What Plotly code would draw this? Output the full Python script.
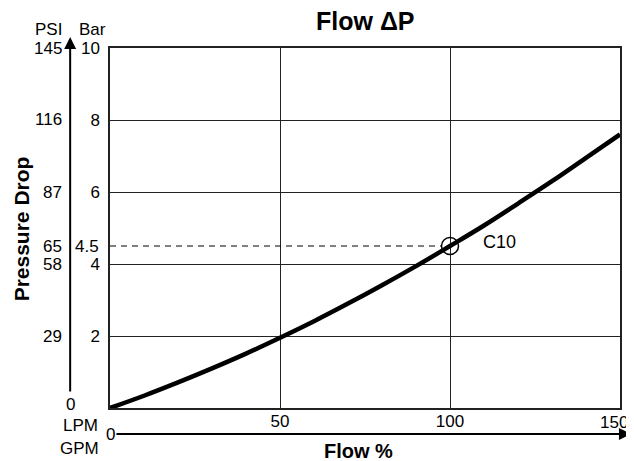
import plotly.graph_objects as go

# ---- data ----
flow_pct = [0, 10, 20, 30, 40, 50, 60, 70, 80, 90, 100, 110, 120, 130, 140, 150]
pressure_bar = [0, 0.34, 0.71, 1.10, 1.51, 1.95, 2.41, 2.90, 3.41, 3.94, 4.50, 5.07, 5.68, 6.30, 6.95, 7.60]
bar_ticks = [2, 4, 6, 8, 10]
psi_ticks = [0, 29, 58, 65, 87, 116, 145]
psi_tick_bar = [0, 2, 4, 4.5, 6, 8, 10]
flow_ticks = [50, 100]
point_flow = 100
point_bar = 4.5
point_label = "C10"

# page is rendered with an 8px body margin
OFF = 8
W, H = 634 - OFF, 461 - OFF
# plot area in page pixels: x 110..622, y 48..408
L, R, T, B = 110 - OFF, 634 - 622, 48 - OFF, 461 - 408
PW, PH = W - L - R, H - T - B
XMAX, YMAX = 150, 10

def px(x):  # page pixel -> paper x
    return (x - OFF - L) / PW

def py(y):  # page pixel -> paper y
    return (H - B - (y - OFF)) / PH

FONT = "Liberation Sans, Arial, sans-serif"
fig = go.Figure()

circle_r = 8.5
fig.add_trace(go.Scatter(
    x=[0, point_flow - circle_r * XMAX / PW], y=[point_bar, point_bar],
    mode="lines", line=dict(color="black", width=1, dash="6px,5px"),
    hoverinfo="skip", showlegend=False, cliponaxis=False))

fig.add_trace(go.Scatter(
    x=flow_pct, y=pressure_bar, mode="lines", line=dict(color="black", width=4.5, shape="spline"),
    showlegend=False, cliponaxis=False))

fig.add_trace(go.Scatter(
    x=[point_flow], y=[point_bar], mode="markers",
    marker=dict(symbol="circle-open", size=2 * circle_r, color="black", line=dict(width=1.5, color="black")),
    showlegend=False))

ann = []

def text(t, x, y, size=17, xa="center", ya="middle", angle=0, ypaper=None):
    ann.append(dict(text=t, x=px(x), y=py(y) if ypaper is None else ypaper,
                    xref="paper", yref="paper", xanchor=xa, yanchor=ya, textangle=angle,
                    showarrow=False, font=dict(size=size, family=FONT, color="black")))

text("<b>Flow ΔP</b>", 366, 21, size=25)
text("<b>Flow %</b>", 359, 451, size=20)
text("<b>Pressure Drop</b>", 21, 229, size=21, angle=-90)
text("PSI", 64, 30, xa="right")
text("Bar", 77, 30, xa="left")
text("LPM", 100, 425, xa="right")
text("GPM", 101, 448, xa="right")
text("0", 110, 434)
text("150", 632, 422, xa="right")
for v, b in zip(psi_ticks, psi_tick_bar):
    if v == 0:
        text("0", 70, 404)
    else:
        text(str(v), 64, 0, xa="right", ypaper=b / YMAX)
text("4.5", 101, 0, xa="right", ypaper=point_bar / YMAX)
text(point_label, 482, 242, size=18, xa="left")

# PSI axis arrow (vertical)
ann.append(dict(text="", x=px(70), y=py(37), xref="paper", yref="paper",
                ax=0, ay=393 - 37, axref="pixel", ayref="pixel",
                showarrow=True, arrowhead=2, arrowsize=1.2, arrowwidth=2, arrowcolor="black"))
# flow axis arrow (horizontal)
ann.append(dict(text="", x=px(633), y=py(434), xref="paper", yref="paper",
                ax=117 - 633, ay=0, axref="pixel", ayref="pixel",
                showarrow=True, arrowhead=2, arrowsize=1.2, arrowwidth=2, arrowcolor="black"))

fig.update_layout(
    width=W, height=H, margin=dict(l=L, r=R, t=T, b=B),
    paper_bgcolor="white", plot_bgcolor="white",
    font=dict(family=FONT, size=17, color="black"),
    annotations=ann, showlegend=False,
    xaxis=dict(range=[0, XMAX], tickvals=flow_ticks, showgrid=True, gridcolor="#222", gridwidth=1,
               zeroline=False, showline=True, linecolor="#222", linewidth=1.5, mirror=True,
               ticks="", ticklabelstandoff=-3, fixedrange=True),
    yaxis=dict(range=[0, YMAX], tickvals=bar_ticks, showgrid=True, gridcolor="#222", gridwidth=1,
               zeroline=False, showline=True, linecolor="#222", linewidth=1.5, mirror=True,
               ticks="", ticklabelstandoff=5, fixedrange=True),
)

fig.write_html("out.html")
